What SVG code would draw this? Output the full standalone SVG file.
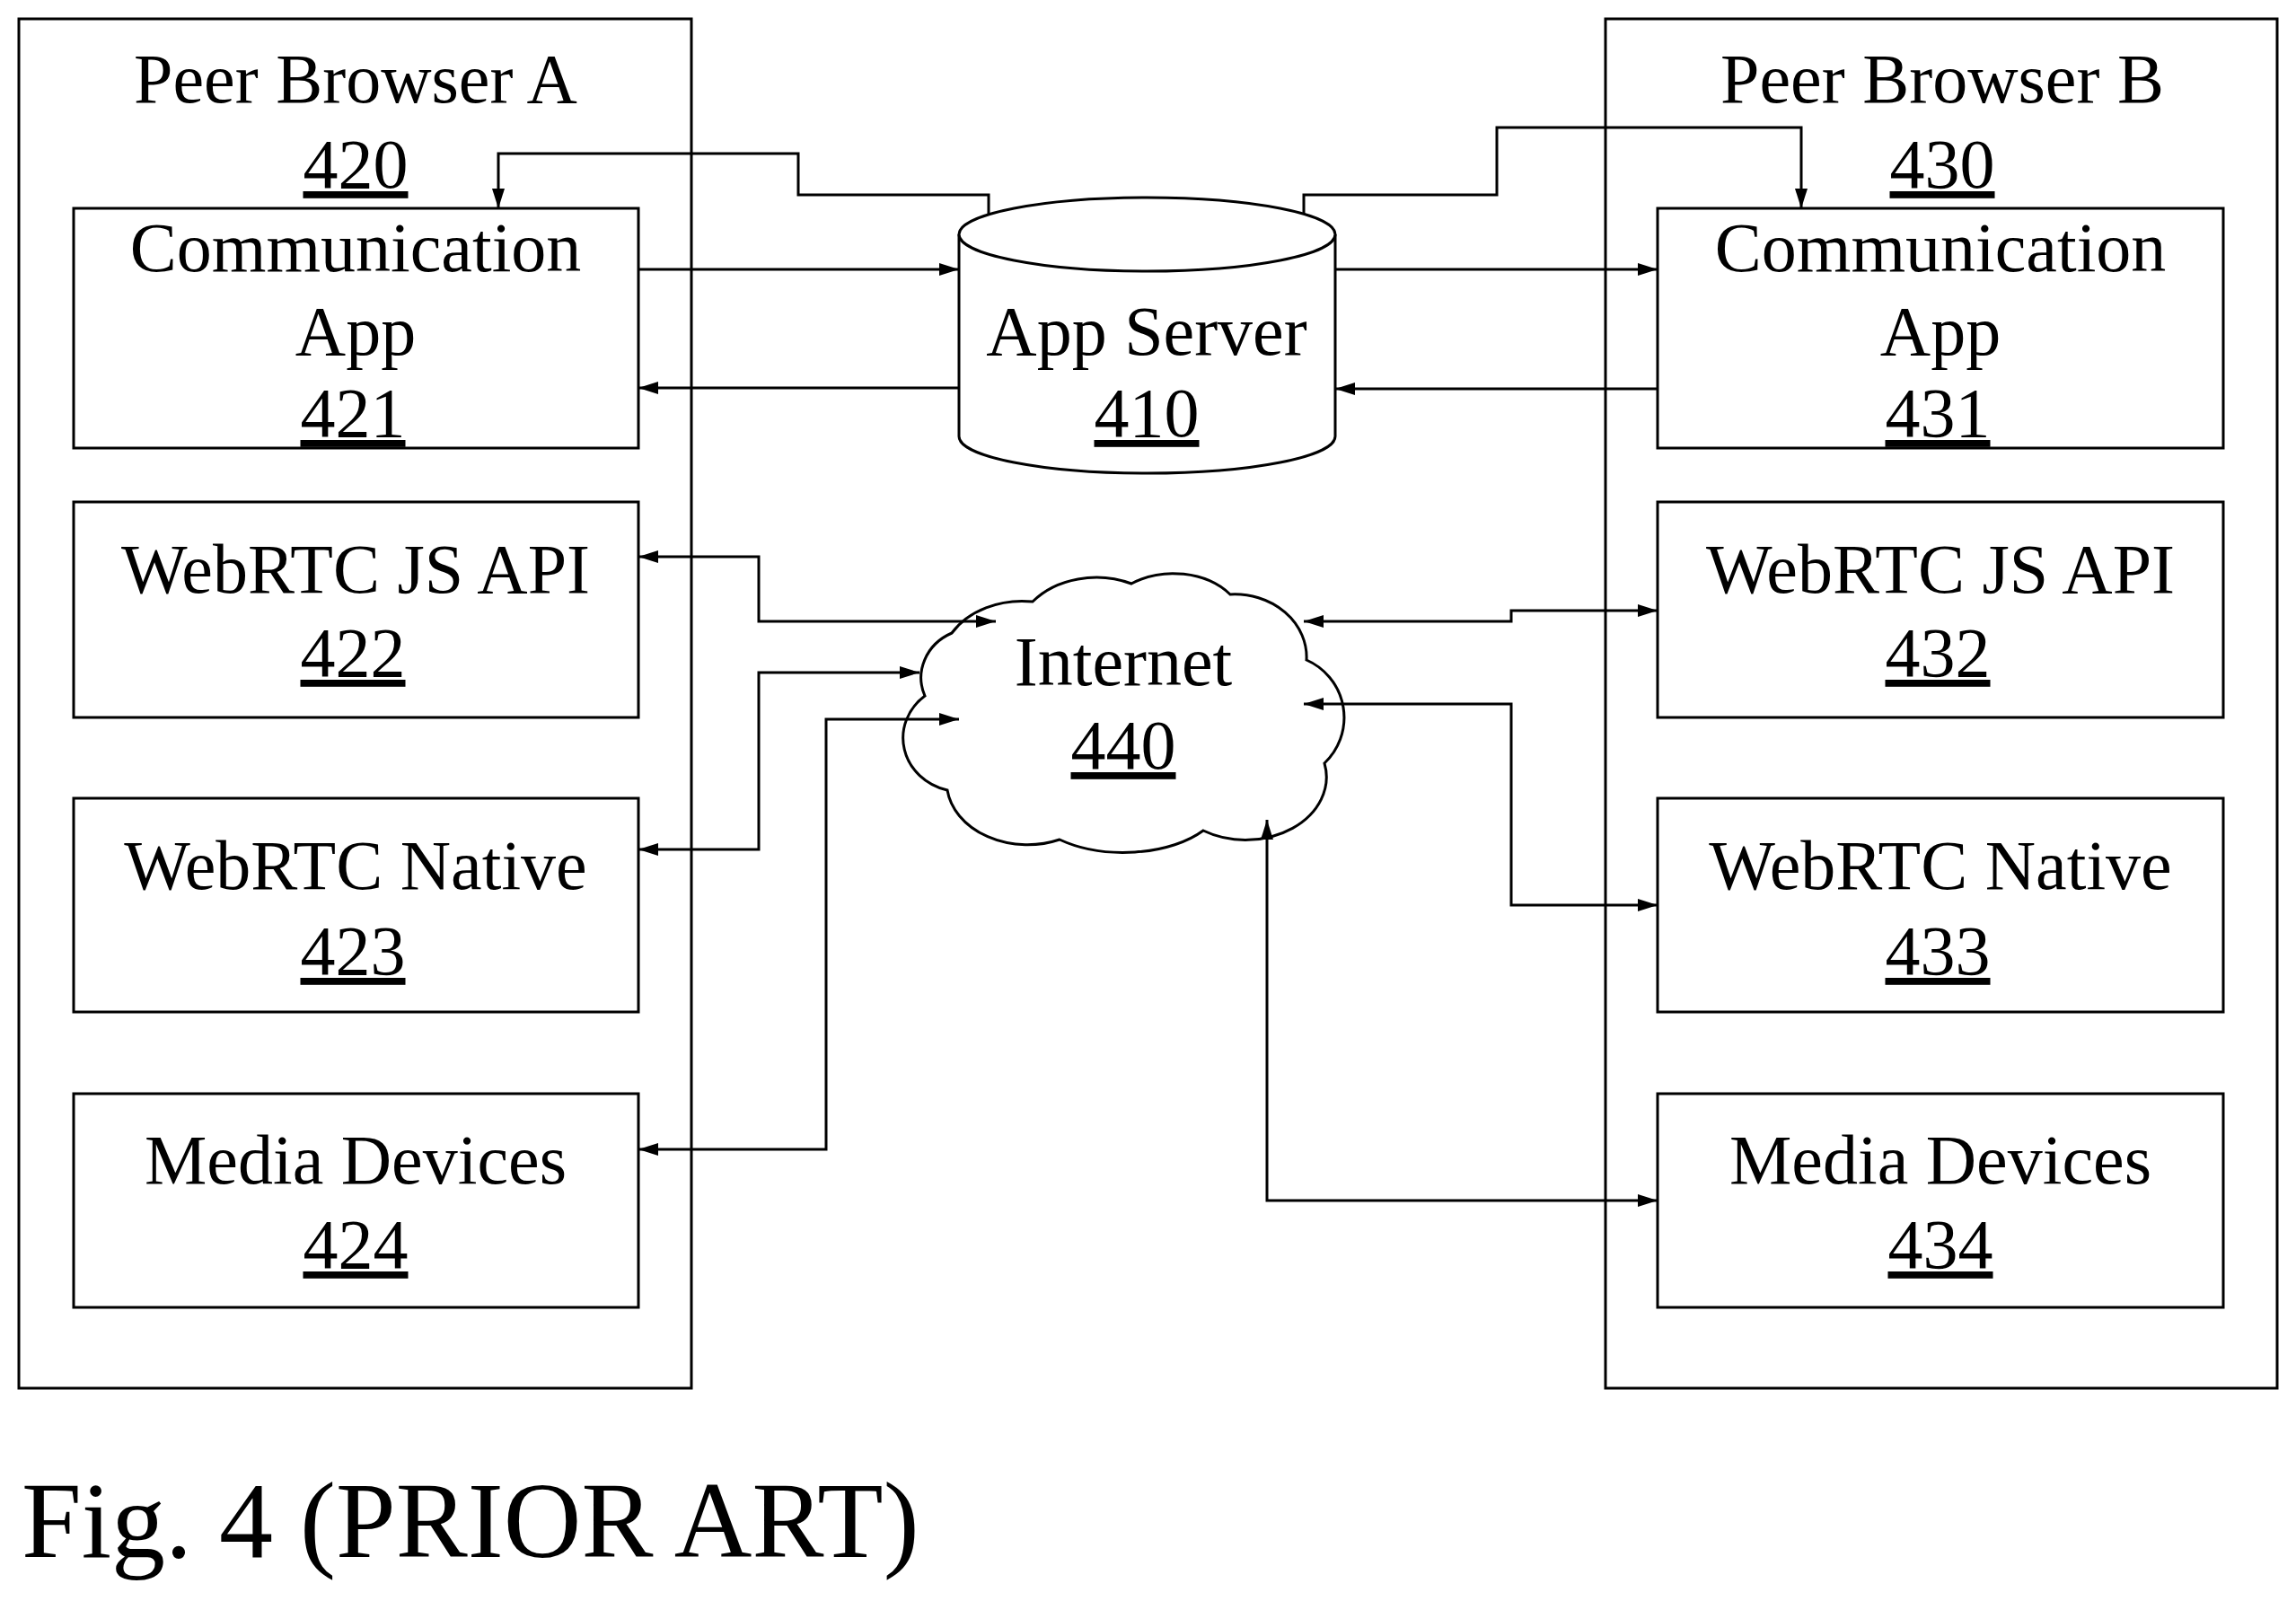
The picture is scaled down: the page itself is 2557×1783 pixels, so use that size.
<svg xmlns="http://www.w3.org/2000/svg" width="2557" height="1783" viewBox="0 0 2557 1783">
<defs>
<marker id="ah" viewBox="0 0 10 10" refX="10" refY="5" markerWidth="22" markerHeight="14" orient="auto-start-reverse" markerUnits="userSpaceOnUse" preserveAspectRatio="none">
<path d="M0,0 L10,5 L0,10 Z" fill="#000"/>
</marker>
<style>
.b{fill:#fff;stroke:#000;stroke-width:3}
.t{font-family:"Liberation Serif",serif;font-size:78px;text-anchor:middle;fill:#000}
.u{text-decoration:underline}
.c{fill:none;stroke:#000;stroke-width:3}
.c path{marker-end:url(#ah)}
.c path.d{marker-start:url(#ah)}
</style>
</defs>
<rect width="2557" height="1783" fill="#fff"/>
<g id="browserA"><rect class="b" x="21" y="21" width="749" height="1525"/><text class="t" x="396" y="114">Peer Browser A</text><text class="t u" x="396" y="209">420</text></g>
<g id="browserB"><rect class="b" x="1788" y="21" width="748" height="1525"/><text class="t" x="2163" y="114">Peer Browser B</text><text class="t u" x="2163" y="209">430</text></g>
<g id="n421"><rect class="b" x="82" y="232" width="629" height="267"/><text class="t" x="396" y="302">Communication</text><text class="t" x="396" y="395">App</text><text class="t u" x="393" y="486">421</text></g>
<g id="n422"><rect class="b" x="82" y="559" width="629" height="240"/><text class="t" x="396" y="660">WebRTC JS API</text><text class="t u" x="393" y="753">422</text></g>
<g id="n423"><rect class="b" x="82" y="889" width="629" height="238"/><text class="t" x="396" y="990">WebRTC Native</text><text class="t u" x="393" y="1085">423</text></g>
<g id="n424"><rect class="b" x="82" y="1218" width="629" height="238"/><text class="t" x="396" y="1318">Media Devices</text><text class="t u" x="396" y="1412">424</text></g>
<g id="n431"><rect class="b" x="1846" y="232" width="630" height="267"/><text class="t" x="2161" y="302">Communication</text><text class="t" x="2161" y="395">App</text><text class="t u" x="2158" y="486">431</text></g>
<g id="n432"><rect class="b" x="1846" y="559" width="630" height="240"/><text class="t" x="2161" y="660">WebRTC JS API</text><text class="t u" x="2158" y="753">432</text></g>
<g id="n433"><rect class="b" x="1846" y="889" width="630" height="238"/><text class="t" x="2161" y="990">WebRTC Native</text><text class="t u" x="2158" y="1085">433</text></g>
<g id="n434"><rect class="b" x="1846" y="1218" width="630" height="238"/><text class="t" x="2161" y="1318">Media Devices</text><text class="t u" x="2161" y="1412">434</text></g>
<g id="n410">
<path class="b" d="M1068,261 A209,41 0 0 1 1487,261 V486 A209,41 0 0 1 1068,486 Z"/>
<path class="b" fill="none" d="M1068,261 A209,41 0 0 0 1487,261"/>
<text class="t" x="1277" y="395">App Server</text><text class="t u" x="1277" y="486">410</text></g>
<g id="n440">
<path class="b" d="M1055,880 A65,60 0 0 1 1030,775 A60,55 0 0 1 1060,705 A90,70 0 0 1 1150,670 A90,70 0 0 1 1260,650 A80,60 0 0 1 1370,662 A80,70 0 0 1 1455,735 A70,70 0 0 1 1475,850 A90,70 0 0 1 1340,925 A110,60 0 0 1 1180,935 A90,70 0 0 1 1055,880 Z"/>
<text class="t" x="1251" y="763">Internet</text><text class="t u" x="1251" y="856">440</text></g>
<g id="connectors" class="c">
<path d="M1101,239 V217 H889 V171 H555 V232"/>
<path d="M1452,239 V217 H1667 V142 H2006 V232"/>
<path d="M711,300 H1068"/>
<path d="M1487,300 H1846"/>
<path d="M1068,432 H711"/>
<path d="M1846,433 H1487"/>
<path class="d" d="M711,620 H845 V692 H1109"/>
<path class="d" d="M711,946 H845 V749 H1024"/>
<path class="d" d="M711,1280 H920 V801 H1068"/>
<path class="d" d="M1452,692 H1683 V680 H1846"/>
<path class="d" d="M1452,784 H1683 V1008 H1846"/>
<path class="d" d="M1411,913 V1337 H1846"/>
</g>
<text x="24" y="1734" style="font-family:'Liberation Serif',serif;font-size:120px">Fig. 4 (PRIOR ART)</text>
</svg>
